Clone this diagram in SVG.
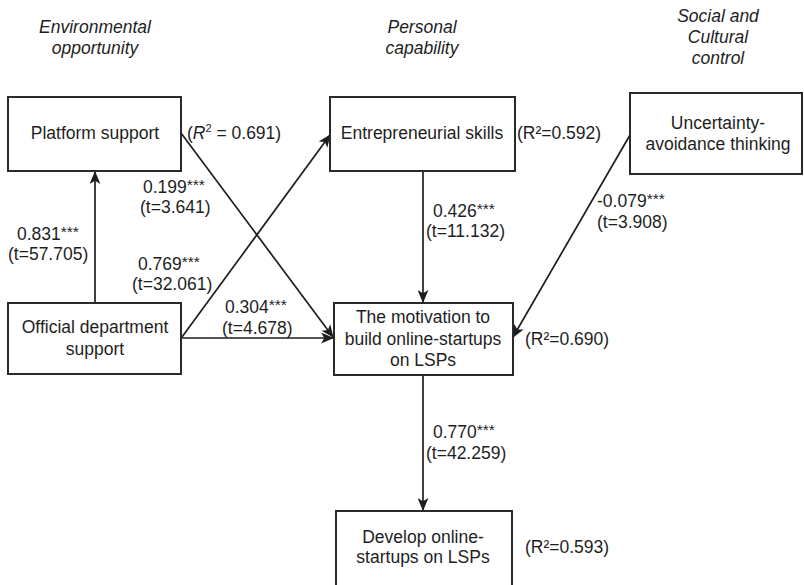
<svg xmlns="http://www.w3.org/2000/svg" width="804" height="585" viewBox="0 0 804 585">
<defs>
<style>
text{font-family:"Liberation Sans",Arial,sans-serif;font-size:17.5px;fill:#1e1e1e}
.h{font-style:italic}
.c{text-anchor:middle}
.s{font-size:15.5px}
rect{fill:#fff;stroke:#2a2a2a;stroke-width:2}
.e{stroke:#1e1e1e;stroke-width:1.7;fill:none;marker-end:url(#ah)}
</style>
<marker id="ah" viewBox="0 0 12 10" refX="11" refY="5" markerWidth="13" markerHeight="11" markerUnits="userSpaceOnUse" orient="auto">
<path d="M0,0 L12,5 L0,10 L3,5 z" fill="#1e1e1e"/>
</marker>
</defs>
<rect x="0" y="0" width="804" height="585" style="fill:#fff;stroke:none"/>
<g id="headers">
<text class="h c" x="95" y="33">Environmental</text>
<text class="h c" x="95" y="54">opportunity</text>
<text class="h c" x="422" y="33">Personal</text>
<text class="h c" x="422" y="54">capability</text>
<text class="h c" x="718" y="22">Social and</text>
<text class="h c" x="718" y="43">Cultural</text>
<text class="h c" x="718" y="64">control</text>
</g>
<g id="connectors">
<line class="e" x1="95" y1="303" x2="95" y2="172"/>
<line class="e" x1="182" y1="337" x2="330" y2="135"/>
<line class="e" x1="181" y1="133" x2="333" y2="337"/>
<line class="e" x1="181" y1="338" x2="333" y2="338"/>
<line class="e" x1="423" y1="171" x2="423" y2="302"/>
<line class="e" x1="630" y1="135" x2="513" y2="337"/>
<line class="e" x1="423" y1="375" x2="423" y2="510"/>
<text x="143" y="193">0.199<tspan class="s" dy="-3">***</tspan></text>
<text x="140" y="213">(t=3.641)</text>
<text x="17" y="240">0.831<tspan class="s" dy="-3">***</tspan></text>
<text x="8" y="260">(t=57.705)</text>
<text x="138" y="270">0.769<tspan class="s" dy="-3">***</tspan></text>
<text x="132" y="290">(t=32.061)</text>
<text x="225" y="313">0.304<tspan class="s" dy="-3">***</tspan></text>
<text x="222" y="334">(t=4.678)</text>
<text x="433" y="217">0.426<tspan class="s" dy="-3">***</tspan></text>
<text x="426" y="237">(t=11.132)</text>
<text x="597" y="207">-0.079<tspan class="s" dy="-3">***</tspan></text>
<text x="597" y="228">(t=3.908)</text>
<text x="433" y="438">0.770<tspan class="s" dy="-3">***</tspan></text>
<text x="426" y="459">(t=42.259)</text>
</g>
<g id="platform">
<rect x="8" y="97" width="173" height="74"/>
<text class="c" x="95" y="139">Platform support</text>
<text x="187" y="139">(<tspan font-style="italic">R</tspan><tspan font-size="11" dy="-7">2</tspan><tspan dy="7"> = 0.691)</tspan></text>
</g>
<g id="skills">
<rect x="330" y="97" width="185" height="74"/>
<text class="c" x="422" y="139">Entrepreneurial skills</text>
<text x="517" y="139">(R²=0.592)</text>
</g>
<g id="uncertainty">
<rect x="630" y="93" width="172" height="81"/>
<text class="c" x="718" y="129">Uncertainty-</text>
<text class="c" x="718" y="150">avoidance thinking</text>
</g>
<g id="official">
<rect x="8" y="303" width="173" height="71"/>
<text class="c" x="95" y="333">Official department</text>
<text class="c" x="95" y="355">support</text>
</g>
<g id="motivation">
<rect x="334" y="303" width="179" height="72"/>
<text class="c" x="423" y="323">The motivation to</text>
<text class="c" x="423" y="345">build online-startups</text>
<text class="c" x="423" y="366">on LSPs</text>
<text x="525" y="345">(R²=0.690)</text>
</g>
<g id="develop">
<rect x="336" y="511" width="176" height="80"/>
<text class="c" x="423" y="543">Develop online-</text>
<text class="c" x="423" y="563">startups on LSPs</text>
<text x="525" y="553">(R²=0.593)</text>
</g>
</svg>
